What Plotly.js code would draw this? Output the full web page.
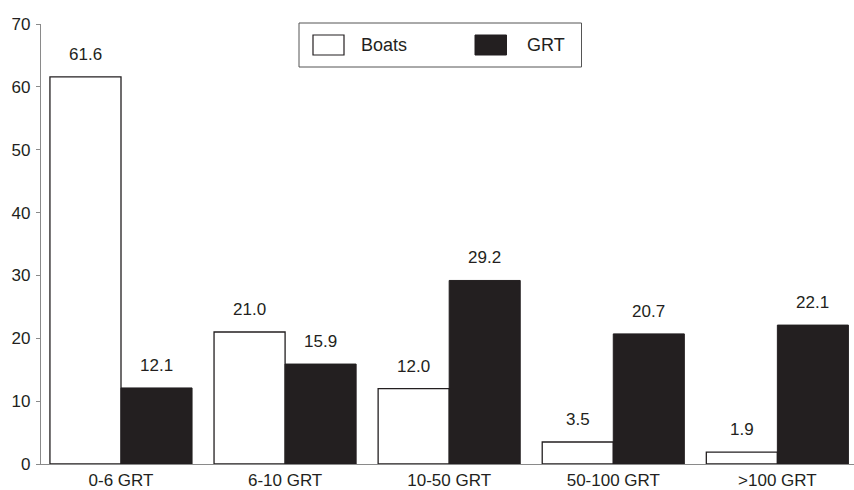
<!DOCTYPE html>
<html><head><meta charset="utf-8">
<script src="https://cdn.plot.ly/plotly-3.0.1.min.js"></script>
<style>html,body{margin:0;padding:0;background:#fff}#chart{width:854px;height:490px}</style>
</head><body><div id="chart"></div>
<script>
const categories = ["0-6 GRT", "6-10 GRT", "10-50 GRT", "50-100 GRT", ">100 GRT"];
const boats = [61.6, 21.0, 12.0, 3.5, 1.9];
const grt = [12.1, 15.9, 29.2, 20.7, 22.1];
const seriesNames = ["Boats", "GRT"];
const yTicks = [0, 10, 20, 30, 40, 50, 60, 70];

const font = {family: "Liberation Sans, Arial, sans-serif", size: 17, color: "#231f20"};
const legFont = {family: "Liberation Sans, Arial, sans-serif", size: 18, color: "#231f20"};
const bargap = 0.134;
const half = (1 - bargap) / 4;

const traces = [
  {type: "bar", name: seriesNames[0], x: categories, y: boats,
   marker: {color: "#ffffff", line: {color: "#231f20", width: 1.3}}, showlegend: false},
  {type: "bar", name: seriesNames[1], x: categories, y: grt,
   marker: {color: "#231f20", line: {color: "#231f20", width: 1}}, showlegend: false}
];

const annotations = [];
categories.forEach((c, i) => {
  annotations.push({x: i - half, y: boats[i], xref: "x", yref: "y", text: boats[i].toFixed(1),
    showarrow: false, yanchor: "bottom", yshift: 11, font: font});
  annotations.push({x: i + half, y: grt[i], xref: "x", yref: "y", text: grt[i].toFixed(1),
    showarrow: false, yanchor: "bottom", yshift: 11, font: font});
});
// custom legend
annotations.push({x: 359, y: 45, xref: "paper", yref: "paper", text: seriesNames[0], showarrow: false, xanchor: "left", yanchor: "middle", font: legFont});
annotations.push({x: 525, y: 45, xref: "paper", yref: "paper", text: seriesNames[1], showarrow: false, xanchor: "left", yanchor: "middle", font: legFont});

const W = 854, H = 490, L = 41, R = 0, T = 24, B = 26;
const pw = W - L - R, ph = H - T - B;
function px(x) { return (x - L) / pw; }
function py(y) { return (H - B - y) / ph; }
annotations.forEach(a => { if (a.xref === "paper") { a.x = px(a.x); a.y = py(a.y); } });

const shapes = [
  {type: "rect", xref: "paper", yref: "paper", x0: px(299), x1: px(581.5), y0: py(23), y1: py(67),
   line: {color: "#555555", width: 1}, fillcolor: "rgba(0,0,0,0)"},
  {type: "rect", xref: "paper", yref: "paper", x0: px(313), x1: px(344), y0: py(35), y1: py(55),
   line: {color: "#231f20", width: 1.2}, fillcolor: "#ffffff"},
  {type: "rect", xref: "paper", yref: "paper", x0: px(475), x1: px(506.5), y0: py(35), y1: py(55),
   line: {color: "#231f20", width: 1}, fillcolor: "#231f20"}
];

const layout = {
  width: W, height: H,
  margin: {l: L, r: R, t: T, b: B, pad: 0},
  paper_bgcolor: "#ffffff", plot_bgcolor: "#ffffff",
  barmode: "group", bargap: bargap, bargroupgap: 0,
  font: font,
  showlegend: false,
  xaxis: {type: "category", range: [-0.4875, 4.467], showline: true, linecolor: "#8a8a8a", linewidth: 1.2,
    ticks: "", showgrid: false, zeroline: false, tickfont: font, fixedrange: true, ticklabelstandoff: 0},
  yaxis: {range: [0, 70], tickvals: yTicks, showline: true, linecolor: "#8a8a8a", linewidth: 1.2,
    ticks: "outside", ticklen: 4, tickcolor: "#8a8a8a", showgrid: false, zeroline: false,
    tickfont: font, ticklabelstandoff: 2},
  annotations: annotations,
  shapes: shapes
};
Plotly.newPlot("chart", traces, layout, {displayModeBar: false, staticPlot: true});
</script></body></html>
